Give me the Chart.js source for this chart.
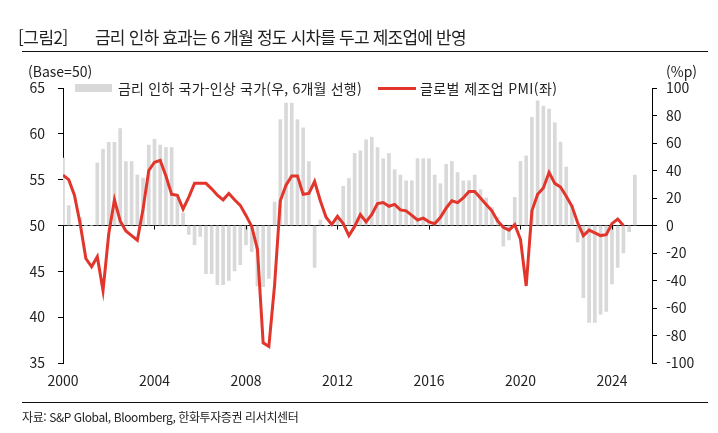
<!DOCTYPE html>
<html lang="ko">
<head>
<meta charset="utf-8">
<script src="https://cdn.jsdelivr.net/npm/chart.js@4.4.1/dist/chart.umd.min.js"></script>
<style>
  body { margin: 0; background: #fff; }
  #wrap { position: relative; width: 718px; height: 433px; overflow: hidden; font-family: 'Noto Sans CJK KR', sans-serif; color: #222; }
  #wrap canvas { position: absolute; left: 0; top: 0; }
  .txt { position: absolute; white-space: nowrap; }
  .rule { position: absolute; left: 22px; width: 686px; height: 1px; background: #111; }
</style>
</head>
<body>
<div id="wrap">
  <canvas id="chart" width="718" height="433"></canvas>
  <div class="txt" style="left:18px; top:26px; font-size:17px; line-height:22px; letter-spacing:-0.5px;">[그림2]</div>
  <div class="txt" style="left:95px; top:26px; font-size:17px; line-height:22px; letter-spacing:-0.8px;">금리 인하 효과는 6 개월 정도 시차를 두고 제조업에 반영</div>
  <div class="rule" style="top:51px;"></div>
  <div class="txt" style="left:28px; top:62px; font-size:14px; line-height:18px;">(Base=50)</div>
  <div class="txt" style="left:666px; top:62px; font-size:14px; line-height:18px;">(%p)</div>
  <div class="txt" style="left:75px; top:84px; width:37px; height:8px; background:#d9d9d9;"></div>
  <div class="txt" style="left:118px; top:78px; font-size:14px; line-height:20px; letter-spacing:0.2px;">금리 인하 국가-인상 국가(우, 6개월 선행)</div>
  <div class="txt" style="left:378px; top:87px; width:38px; height:3px; background:#e2352b;"></div>
  <div class="txt" style="left:420px; top:78px; font-size:14px; line-height:20px; letter-spacing:0.4px;">글로벌 제조업 PMI(좌)</div>
  <div class="rule" style="top:402px;"></div>
  <div class="txt" style="left:22px; top:408px; font-size:12px; line-height:17px; letter-spacing:-0.4px;">자료: S&amp;P Global, Bloomberg, 한화투자증권 리서치센터</div>
</div>
<script>
// quarterly data, first point = 2000 Q1
const startYear = 2000;
const yearTicks = [2000, 2004, 2008, 2012, 2016, 2020, 2024];

// 금리 인하 국가 - 인상 국가 (%p, 6개월 선행) - right axis
const rateCutGap = [
  49, 14.5, 0, 6, 0, 0, 45.5, 55.5, 60.5, 60.5,
  70.5, 46.5, 46.5, 36.7, 34.5, 58.5, 62.7, 58.5, 56.7, 56.7,
  22, 9, -6.5, -14, -8, -35, -35, -43, -43, -40,
  -33, -28.5, -14, -19, -44, -44.5, -38.5, 17, 77, 89,
  89, 77, 71, 46.5, -30.5, 4, 0, 0, 6, 28.5,
  34.2, 52.5, 54.3, 62.4, 64.2, 56.7, 48.6, 52.4, 40.6, 36.7,
  32.5, 32.5, 48.6, 48.6, 48.6, 36.7, 30.4, 44.5, 46.6, 38.5,
  32.5, 32.5, 36.7, 26, 20, 13, 6, -15, -10.5, 20.5,
  46.6, 50.6, 78.7, 90.7, 86.8, 84.7, 74.8, 60.7, 42.5, 15,
  -12, -52.5, -70.5, -70.5, -64.5, -62.5, -42.5, -30.5, -20, -4.5,
  36.7
];

// 글로벌 제조업 PMI - left axis
const globalPmi = [
  55.5, 55.0, 53.3, 50.2, 46.4, 45.5, 46.6, 42.9, 49.1, 52.8,
  50.5, 49.4, 48.9, 48.4, 51.8, 56.0, 56.9, 57.1, 55.4, 53.4,
  53.3, 51.8, 53.1, 54.6, 54.6, 54.6, 54.0, 53.3, 52.8, 53.5,
  52.8, 52.2, 51.1, 49.9, 47.4, 37.2, 36.8, 43.5, 52.7, 54.4,
  55.4, 55.4, 53.4, 53.5, 54.8, 52.7, 50.9, 50.1, 51.0, 50.2,
  48.9, 49.9, 51.2, 50.4, 51.2, 52.4, 52.5, 52.1, 52.3, 51.7,
  51.6, 51.1, 50.6, 50.8, 50.4, 50.2, 50.9, 51.9, 52.7, 52.5,
  53.0, 53.7, 53.7, 53.0, 52.3, 51.6, 50.5, 49.8, 49.5, 50.1,
  48.5, 43.4, 51.6, 53.4, 54.1, 55.8, 54.6, 54.2, 53.2, 52.1,
  50.3, 48.9, 49.5, 49.2, 48.9, 49.0, 50.2, 50.7, 50.0
];

const toPoints = arr => arr.map((v, i) => ({ x: startYear + i / 4, y: v }));

// small tick marks on the zero line at each year label
const zeroLineTicks = {
  id: 'zeroLineTicks',
  afterDraw(chart) {
    const ctx = chart.ctx;
    const x = chart.scales.x;
    const y0 = chart.scales.y1.getPixelForValue(0);
    ctx.save();
    ctx.strokeStyle = '#000';
    ctx.lineWidth = 1;
    yearTicks.forEach(t => {
      const px = Math.round(x.getPixelForValue(t)) + 0.5;
      ctx.beginPath();
      ctx.moveTo(px, y0);
      ctx.lineTo(px, y0 + 4);
      ctx.stroke();
    });
    ctx.restore();
  }
};

Chart.defaults.font.family = "'Noto Sans CJK KR', sans-serif";
Chart.defaults.font.size = 14;
Chart.defaults.color = '#222';

new Chart(document.getElementById('chart'), {
  type: 'bar',
  data: {
    datasets: [
      {
        type: 'line',
        label: '글로벌 제조업 PMI(좌)',
        data: toPoints(globalPmi),
        yAxisID: 'y',
        borderColor: '#e2352b',
        borderWidth: 3,
        pointRadius: 0,
        tension: 0,
        order: 1
      },
      {
        type: 'bar',
        label: '금리 인하 국가-인상 국가(우, 6개월 선행)',
        data: toPoints(rateCutGap),
        yAxisID: 'y1',
        backgroundColor: '#d9d9d9',
        barThickness: 3,
        order: 2
      }
    ]
  },
  options: {
    responsive: false,
    animation: false,
    layout: { padding: { top: 88, bottom: 40, left: 0, right: 0 } },
    plugins: { legend: { display: false }, tooltip: { enabled: false } },
    scales: {
      x: {
        type: 'linear',
        min: 2000,
        max: 2025.75,
        offset: false,
        grid: { display: false, drawTicks: false, offset: false },
        border: { display: false },
        afterBuildTicks: s => { s.ticks = yearTicks.map(v => ({ value: v })); },
        afterFit: s => { s.height = 30; },
        ticks: { padding: 9, callback: v => String(v), autoSkip: false, maxRotation: 0 }
      },
      y: {
        position: 'left',
        min: 35,
        max: 65,
        ticks: { stepSize: 5, padding: 13 },
        grid: { drawOnChartArea: false, tickLength: 5, color: '#000' },
        border: { color: '#000' },
        afterFit: s => { s.width = 63; }
      },
      y1: {
        position: 'right',
        min: -100,
        max: 100,
        ticks: { stepSize: 20, padding: 9 },
        grid: {
          tickLength: 5,
          tickColor: '#000',
          color: c => (c.tick && c.tick.value === 0 ? '#000' : 'rgba(0,0,0,0)')
        },
        border: { color: '#000' },
        afterFit: s => { s.width = 66; }
      }
    }
  },
  plugins: [zeroLineTicks]
});
</script>
</body>
</html>
